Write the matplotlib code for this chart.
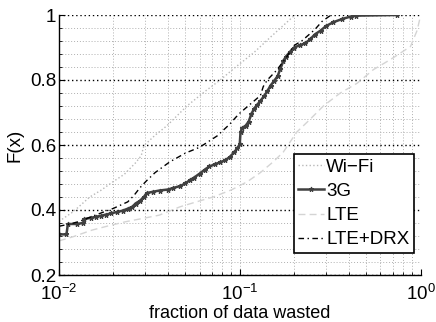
import matplotlib
matplotlib.use("Agg")
import matplotlib.pyplot as plt
from matplotlib.ticker import LogLocator, FixedLocator, FixedFormatter, NullFormatter

plt.rcParams['font.family'] = ['Liberation Sans', 'DejaVu Sans']
plt.rcParams['mathtext.fontset'] = 'custom'
plt.rcParams['mathtext.rm'] = 'Liberation Sans'
plt.rcParams['mathtext.it'] = 'Liberation Sans:italic'

# ---- data ----
wifi_x = [0.0100, 0.0120, 0.0148, 0.0170, 0.0199, 0.0230, 0.0265, 0.0285, 0.0295, 0.0340,
          0.0395, 0.0450, 0.0510, 0.0580, 0.0660, 0.0780, 0.0950, 0.1190, 0.1500, 0.1800,
          0.2000, 0.2050]
wifi_y = [0.365, 0.395, 0.440, 0.460, 0.487, 0.510, 0.545, 0.567, 0.598, 0.630,
          0.659, 0.690, 0.720, 0.745, 0.770, 0.800, 0.840, 0.883, 0.935, 0.975,
          0.998, 1.000]

g3_x = [0.0100, 0.0110, 0.0112, 0.0125, 0.0136, 0.0138, 0.0150, 0.0160, 0.0170, 0.0182,
        0.0195, 0.0210, 0.0225, 0.0240, 0.0255, 0.0265, 0.0280, 0.0295, 0.0305, 0.0330,
        0.0360, 0.0400, 0.0430, 0.0470, 0.0500, 0.0530, 0.0560, 0.0600, 0.0640, 0.0680,
        0.0730, 0.0780, 0.0830, 0.0880, 0.0930, 0.0970, 0.1000, 0.1010, 0.1030, 0.1080,
        0.1120, 0.1160, 0.1200, 0.1250, 0.1300, 0.1360, 0.1420, 0.1480, 0.1550, 0.1620,
        0.1680, 0.1740, 0.1800, 0.1900, 0.2000, 0.2150, 0.2300, 0.2450, 0.2600, 0.2800,
        0.3000, 0.3300, 0.3700, 0.4100, 0.4400, 0.7400]
g3_y = [0.325, 0.325, 0.357, 0.357, 0.360, 0.372, 0.376, 0.379, 0.382, 0.386,
        0.390, 0.394, 0.398, 0.404, 0.410, 0.420, 0.428, 0.440, 0.452, 0.456,
        0.460, 0.463, 0.468, 0.474, 0.482, 0.492, 0.500, 0.512, 0.524, 0.534,
        0.541, 0.547, 0.553, 0.563, 0.577, 0.590, 0.602, 0.640, 0.652, 0.660,
        0.672, 0.695, 0.712, 0.724, 0.735, 0.750, 0.765, 0.783, 0.797, 0.812,
        0.835, 0.858, 0.872, 0.887, 0.900, 0.907, 0.913, 0.925, 0.940, 0.952,
        0.966, 0.978, 0.988, 0.995, 0.998, 1.000]

lte_x = [0.0100, 0.0120, 0.0152, 0.0190, 0.0234, 0.0290, 0.0358, 0.0468, 0.0600, 0.0713,
         0.0900, 0.1100, 0.1300, 0.1530, 0.1740, 0.2070, 0.2460, 0.2900, 0.3600, 0.4460,
         0.5490, 0.6820, 0.8800, 0.9600, 1.0000]
lte_y = [0.305, 0.318, 0.338, 0.352, 0.364, 0.374, 0.384, 0.410, 0.428, 0.440,
         0.462, 0.487, 0.515, 0.548, 0.578, 0.640, 0.680, 0.720, 0.760, 0.790,
         0.832, 0.863, 0.903, 0.954, 0.998]

drx_x = [0.0100, 0.0115, 0.0130, 0.0155, 0.0200, 0.0240, 0.0260, 0.0280, 0.0305, 0.0340,
         0.0370, 0.0410, 0.0500, 0.0600, 0.0750, 0.0880, 0.0950, 0.1010, 0.1140, 0.1300,
         0.1350, 0.1420, 0.1600, 0.1830, 0.1980, 0.2200, 0.2600, 0.2850, 0.3200]
drx_y = [0.350, 0.357, 0.365, 0.382, 0.405, 0.425, 0.445, 0.468, 0.490, 0.515,
         0.530, 0.548, 0.575, 0.593, 0.628, 0.664, 0.685, 0.700, 0.725, 0.752,
         0.780, 0.800, 0.830, 0.873, 0.905, 0.920, 0.955, 0.980, 1.000]

labels = ['Wi\u2212Fi', '3G', 'LTE', 'LTE+DRX']
ytick_vals = [0.2, 0.4, 0.6, 0.8, 1.0]
ytick_labels = ['0.2', '0.4', '0.6', '0.8', '1']
xlabel = 'fraction of data wasted'
ylabel = 'F(x)'

FS = 13.5

# ---- figure ----
fig = plt.figure(figsize=(4.36, 3.22), dpi=100)
ax = fig.add_axes([59/436, 1-275/322, (420.5-59)/436, (275-15)/322])

ax.plot(wifi_x, wifi_y, linestyle=':', color='#b8b8b8', lw=1.0, label=labels[0])
ax.plot(g3_x, g3_y, linestyle='-', color='#404040', lw=1.8, marker='*',
        markersize=3.5, markeredgewidth=0.8, label=labels[1])
ax.plot(lte_x, lte_y, linestyle='--', color='#d4d4d4', lw=1.0, dashes=(5, 3), label=labels[2])
ax.plot(drx_x, drx_y, linestyle='-.', color='black', lw=1.0, dashes=(4, 2.5, 1, 2.5), label=labels[3])

ax.set_xscale('log')
ax.set_xlim(0.01, 1)
ax.set_ylim(0.2, 1.0)
ax.yaxis.set_major_locator(FixedLocator(ytick_vals))
ax.yaxis.set_major_formatter(FixedFormatter(ytick_labels))
ax.yaxis.set_minor_locator(FixedLocator([0.2 + 0.04 * i for i in range(21)]))
ax.xaxis.set_major_locator(LogLocator(base=10, numticks=10))
ax.xaxis.set_minor_locator(LogLocator(base=10, subs=range(2, 10), numticks=20))
ax.xaxis.set_minor_formatter(NullFormatter())

ax.grid(which='major', axis='y', linestyle=(0, (1, 2)), color='black', lw=1.0)
ax.grid(which='minor', axis='y', linestyle=(0, (1, 2)), color='#b0b0b0', lw=0.7)
ax.grid(which='both', axis='x', linestyle=(0, (1, 2)), color='#b0b0b0', lw=0.7)
ax.set_axisbelow(True)

for s in ['top', 'right']:
    ax.spines[s].set_visible(False)
for s in ['left', 'bottom']:
    ax.spines[s].set_linewidth(1.0)

ax.tick_params(which='both', direction='in', labelsize=FS, pad=2)
ax.tick_params(which='major', length=4)
ax.tick_params(which='minor', length=2)
ax.tick_params(axis='x', which='major', pad=6.5)

ax.set_xlabel(xlabel, fontsize=13, labelpad=0.5)
ax.set_ylabel(ylabel, fontsize=FS, labelpad=5)

leg = ax.legend(loc='lower right', bbox_to_anchor=(0.982, 0.084), fontsize=FS,
                frameon=True, fancybox=False, framealpha=1, edgecolor='black',
                handlelength=1.35, handletextpad=0.12, labelspacing=0.38,
                borderpad=0.25, borderaxespad=0)
leg.get_frame().set_linewidth(1.2)

fig.savefig('out.png', dpi=100)
